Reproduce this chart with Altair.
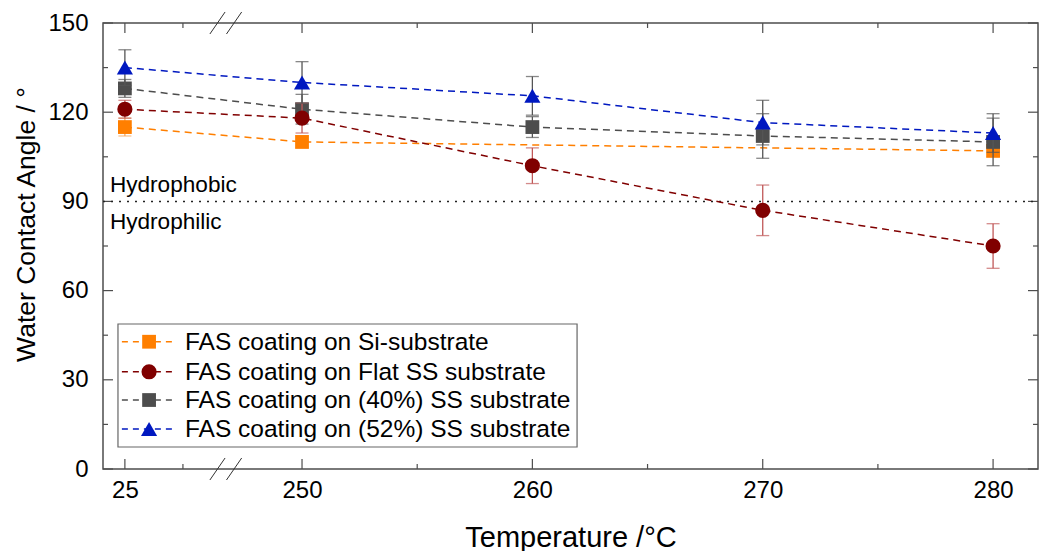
import altair as alt
import pandas as pd

# ---------------- data ----------------
temps = [25, 250, 260, 270, 280]
X25 = 242.31  # position of the "25" category on the broken axis

series_names = [
    "FAS coating on Si-substrate",
    "FAS coating on Flat SS substrate",
    "FAS coating on (40%) SS substrate",
    "FAS coating on (52%) SS substrate",
]
si_temps = [25, 250, 280]
si_vals = [115, 110, 107]
si_err = [3, 2, 2]

flat_temps = [25, 250, 260, 270, 280]
flat_vals = [121, 118, 102, 87, 75]
flat_err = [3, 5, 6, 8.5, 7.5]

p40_temps = [25, 250, 260, 270, 280]
p40_vals = [128, 121, 115, 112, 110]
p40_err = [3, 5, 3.5, 7.5, 8]

p52_temps = [25, 250, 260, 270, 280]
p52_vals = [135, 130, 125.5, 116.5, 113]
p52_err = [6, 7, 6.5, 7.5, 6.5]

colors = ["#ff7f00", "#800000", "#4d4d4d", "#0018c0"]
err_colors = ["#f5a860", "#c05858", "#555555", "#555555"]
shapes = ["square", "circle", "square", "triangle-up"]
sizes = [190, 230, 190, 260]

x_major = [X25, 250, 260, 270, 280]
x_minor = [244.83, 255, 265, 275]
y_major = [0, 30, 60, 90, 120, 150]
y_minor = [15, 45, 75, 105, 135]

W, H = 935, 446
xs = alt.Scale(domain=[241.36, 281.95], nice=False, zero=False)
ys = alt.Scale(domain=[0, 150], nice=False, zero=False)

x_axis = alt.Axis(
    title="Temperature /°C", values=x_major, ticks=False, domain=False, grid=False,
    labelExpr="datum.value < 245 ? '25' : format(datum.value, 'd')",
    labelFontSize=24, labelPadding=9, labelColor="black",
    titleFontSize=29, titleFontWeight="normal", titleColor="black",
    titleBaseline="alphabetic", titleY=77,
)
y_axis = alt.Axis(
    title="Water Contact Angle / °", values=y_major, ticks=False, domain=False, grid=False,
    labelFontSize=24, labelPadding=15, labelColor="black",
    titleFontSize=26.5, titleFontWeight="normal", titleColor="black",
    titleAngle=270, titleAlign="center", titleBaseline="middle", titleX=-77, titleY=201,
)


def X(field):
    return alt.X(field, type="quantitative", scale=xs, axis=x_axis)


def Y(field):
    return alt.Y(field, type="quantitative", scale=ys, axis=y_axis)


layers = []

# tick marks (inward, on all four sides)
dxmaj = pd.DataFrame({"x": x_major})
dxmin = pd.DataFrame({"x": x_minor})
dymaj = pd.DataFrame({"y": y_major})
dymin = pd.DataFrame({"y": y_minor})
tk = dict(color="#4d4d4d", strokeWidth=1.2)
layers += [
    alt.Chart(dxmaj).mark_rule(**tk).encode(x=X("x"), y=alt.value(H), y2=alt.value(H - 10)),
    alt.Chart(dxmaj).mark_rule(**tk).encode(x=X("x"), y=alt.value(0), y2=alt.value(10)),
    alt.Chart(dxmin).mark_rule(**tk).encode(x=X("x"), y=alt.value(H), y2=alt.value(H - 5)),
    alt.Chart(dxmin).mark_rule(**tk).encode(x=X("x"), y=alt.value(0), y2=alt.value(5)),
    alt.Chart(dymaj).mark_rule(**tk).encode(y=Y("y"), x=alt.value(0), x2=alt.value(10)),
    alt.Chart(dymaj).mark_rule(**tk).encode(y=Y("y"), x=alt.value(W), x2=alt.value(W - 10)),
    alt.Chart(dymin).mark_rule(**tk).encode(y=Y("y"), x=alt.value(0), x2=alt.value(5)),
    alt.Chart(dymin).mark_rule(**tk).encode(y=Y("y"), x=alt.value(W), x2=alt.value(W - 5)),
]

# axis-break marks
brk = pd.DataFrame({
    "x": [246.0, 246.72, 246.0, 246.72],
    "x2": [246.66, 247.38, 246.66, 247.38],
    "y": [146.3, 146.3, -3.7, -3.7],
    "y2": [153.7, 153.7, 3.7, 3.7],
})
layers.append(
    alt.Chart(brk).mark_rule(color="#333333", strokeWidth=1).encode(
        x=X("x"), x2="x2", y=Y("y"), y2="y2"
    )
)

# 90° reference line + labels
layers.append(
    alt.Chart(pd.DataFrame({"y": [90]})).mark_rule(
        color="#222222", strokeWidth=1.5, strokeDash=[2, 6]
    ).encode(y=Y("y"), x=alt.value(0), x2=alt.value(W))
)
hyd = pd.DataFrame({"x": [241.66, 241.66], "y": [93.3, 80.7], "t": ["Hydrophobic", "Hydrophilic"]})
layers.append(
    alt.Chart(hyd).mark_text(align="left", baseline="alphabetic", fontSize=22.6, color="black").encode(
        x=X("x"), y=Y("y"), text="t:N"
    )
)

# series
all_t = [si_temps, flat_temps, p40_temps, p52_temps]
all_v = [si_vals, flat_vals, p40_vals, p52_vals]
all_e = [si_err, flat_err, p40_err, p52_err]
frames = []
for name, tt, vv, ee in zip(series_names, all_t, all_v, all_e):
    frames.append(pd.DataFrame({
        "x": [X25 if t == 25 else t for t in tt],
        "y": vv,
        "lo": [v - e for v, e in zip(vv, ee)],
        "hi": [v + e for v, e in zip(vv, ee)],
    }))

# lines first
for i, df in enumerate(frames):
    layers.append(
        alt.Chart(df).mark_line(color=colors[i], strokeWidth=1.5, strokeDash=[7, 5]).encode(
            x=X("x"), y=Y("y")
        )
    )

draw_order = [0, 2, 1, 3]
for i in draw_order:
    df = frames[i]
    layers.append(
        alt.Chart(df).mark_rule(color=err_colors[i], strokeWidth=1.3).encode(
            x=X("x"), y=Y("lo"), y2="hi"
        )
    )
    for f in ["lo", "hi"]:
        layers.append(
            alt.Chart(df).mark_tick(color=err_colors[i], thickness=1.3, size=13, orient="horizontal").encode(
                x=X("x"), y=Y(f)
            )
        )
    layers.append(
        alt.Chart(df).mark_point(
            shape=shapes[i], filled=True, size=sizes[i], color=colors[i], opacity=1
        ).encode(x=X("x"), y=Y("y"))
    )

# legend (drawn inside the plot)
box = pd.DataFrame({"x": [242.01], "x2": [261.94], "y": [7.4], "y2": [48.77]})
layers.append(
    alt.Chart(box).mark_rect(fill="white", stroke="#666666", strokeWidth=1.2).encode(
        x=X("x"), x2="x2", y=Y("y"), y2="y2"
    )
)
leg_y = [42.8, 32.7, 23.2, 13.45]
for i, name in enumerate(series_names):
    ld = pd.DataFrame({"x": [242.18, 244.4], "y": [leg_y[i], leg_y[i]]})
    layers.append(
        alt.Chart(ld).mark_line(color=colors[i], strokeWidth=1.5, strokeDash=[6, 5]).encode(
            x=X("x"), y=Y("y")
        )
    )
    pd1 = pd.DataFrame({"x": [243.36], "y": [leg_y[i]], "t": [name]})
    layers.append(
        alt.Chart(pd1).mark_point(shape=shapes[i], filled=True, size=sizes[i], color=colors[i], opacity=1).encode(
            x=X("x"), y=Y("y")
        )
    )
    td = pd.DataFrame({"x": [244.92], "y": [leg_y[i]], "t": [name]})
    layers.append(
        alt.Chart(td).mark_text(align="left", baseline="middle", fontSize=24.5, color="black", dy=1).encode(
            x=X("x"), y=Y("y"), text="t:N"
        )
    )

chart = alt.layer(*layers).properties(
    width=W, height=H,
    autosize=alt.AutoSizeParams(type="none"),
    padding={"left": 95, "top": 15, "right": 1, "bottom": 82},
).configure(
    font="Liberation Sans",
).configure_view(
    stroke="#4d4d4d", strokeWidth=1.5
).configure_axis(
    labelFont="Liberation Sans", titleFont="Liberation Sans"
)

chart.save("out.html", embed_options={"renderer": "svg", "actions": False})
